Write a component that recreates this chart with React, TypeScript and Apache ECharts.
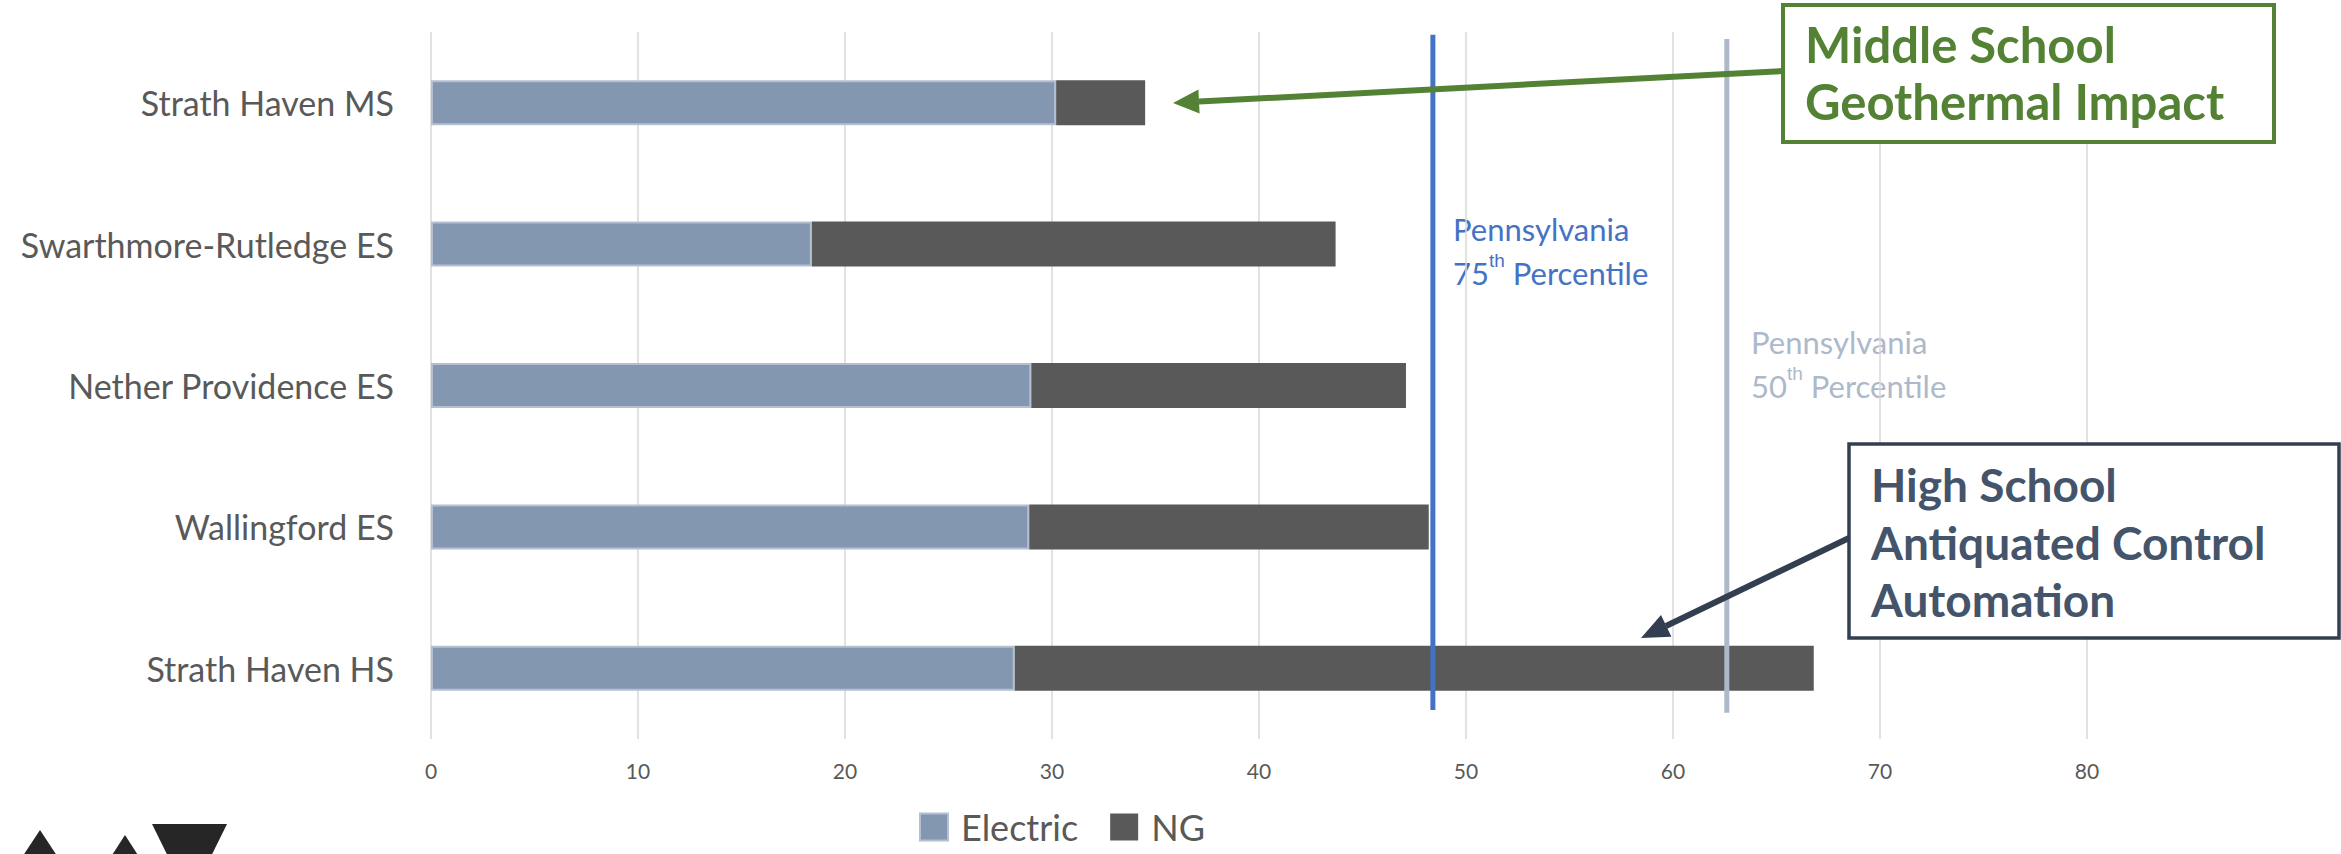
import React, { useEffect, useRef } from "react";
import * as echarts from "echarts";

const categories = [
  "Strath Haven MS",
  "Swarthmore-Rutledge ES",
  "Nether Providence ES",
  "Wallingford ES",
  "Strath Haven HS",
];
const electricValues = [30.2, 18.4, 29.0, 28.9, 28.2];
const ngValues = [4.3, 25.3, 18.1, 19.3, 38.6];
const pa75 = 48.4;
const pa50 = 62.6;
const xTicks = [0, 10, 20, 30, 40, 50, 60, 70, 80];

const FONT = "Lato, 'Open Sans', sans-serif";

export default function App() {
  const ref = useRef<HTMLDivElement>(null);
  useEffect(() => {
    document.body.style.margin = "0";
    const chart = echarts.init(ref.current!, null, { renderer: "svg" });
    const green = "#548235";
    const dark = "#333F50";
    const darkText = "#44546A";
    const option: any = {
      animation: false,
      backgroundColor: "#ffffff",
      textStyle: { fontFamily: FONT },
      grid: { left: 431, right: 254, top: 32, bottom: 115, containLabel: false },
      legend: {
        data: ["Electric", "NG"],
        left: 914,
        top: 804,
        itemWidth: 28,
        itemHeight: 27,
        itemGap: 32,
        icon: "rect",
        textStyle: {
          fontSize: 36,
          color: "#595959",
          fontFamily: FONT,
          padding: [0, 0, 0, 8],
        },
      },
      xAxis: {
        type: "value",
        min: xTicks[0],
        max: xTicks[xTicks.length - 1],
        interval: 10,
        axisLine: { show: false },
        axisTick: { show: false },
        splitLine: { show: true, lineStyle: { color: "#D9D9D9", width: 1.5 } },
        axisLabel: { fontSize: 21, color: "#595959", margin: 21, fontFamily: FONT },
      },
      yAxis: [
        {
          type: "category",
          data: categories,
          inverse: true,
          axisLine: { show: false },
          axisTick: { show: false },
          axisLabel: { fontSize: 34, color: "#595959", margin: 37, fontFamily: FONT },
        },
        { type: "value", min: 0, max: 1, show: false },
      ],
      series: [
        {
          name: "Electric",
          type: "bar",
          stack: "total",
          data: electricValues,
          barWidth: 45,
          itemStyle: { color: "#8497B0", borderColor: "#B4C0D2", borderWidth: 2 },
        },
        {
          name: "NG",
          type: "bar",
          stack: "total",
          data: ngValues,
          barWidth: 45,
          itemStyle: { color: "#595959" },
        },
        {
          name: "PA 75th",
          type: "line",
          yAxisIndex: 1,
          data: [[pa75, 0.041], [pa75, 0.996]],
          symbol: "none",
          lineStyle: { color: "#4472C4", width: 5 },
          z: 5,
        },
        {
          name: "PA 50th",
          type: "line",
          yAxisIndex: 1,
          data: [[pa50, 0.037], [pa50, 0.99]],
          symbol: "none",
          lineStyle: { color: "#ADB9CA", width: 5 },
          z: 5,
        },
      ],
      graphic: [
        {
          type: "text",
          left: 1453,
          top: 207,
          style: {
            text: "Pennsylvania\n75{sup|th} Percentile",
            fill: "#4472C4",
            font: `31px ${FONT}`,
            lineHeight: 44,
            rich: { sup: { fontSize: 19, verticalAlign: "top", lineHeight: 30, fill: "#4472C4" } },
          },
        },
        {
          type: "text",
          left: 1751,
          top: 320,
          style: {
            text: "Pennsylvania\n50{sup|th} Percentile",
            fill: "#ADB9CA",
            font: `31px ${FONT}`,
            lineHeight: 44,
            rich: { sup: { fontSize: 19, verticalAlign: "top", lineHeight: 30, fill: "#ADB9CA" } },
          },
        },
        {
          type: "rect",
          shape: { x: 1783, y: 5, width: 491, height: 137 },
          style: { fill: "#ffffff", stroke: green, lineWidth: 4 },
          z: 10,
        },
        {
          type: "text",
          x: 1805,
          y: 15,
          style: {
            text: "Middle School\nGeothermal Impact",
            fill: green,
            font: `bold 49px ${FONT}`,
            lineHeight: 57,
          },
          z: 11,
        },
        {
          type: "line",
          shape: { x1: 1783, y1: 71, x2: 1199, y2: 101.6 },
          style: { stroke: green, lineWidth: 6 },
          z: 10,
        },
        {
          type: "polygon",
          shape: { points: [[1173, 103], [1199.6, 113.6], [1198.4, 89.6]] },
          style: { fill: green },
          z: 10,
        },
        {
          type: "rect",
          shape: { x: 1849, y: 444, width: 490, height: 194 },
          style: { fill: "#ffffff", stroke: dark, lineWidth: 3.5 },
          z: 10,
        },
        {
          type: "text",
          x: 1871,
          y: 456,
          style: {
            text: "High School\nAntiquated Control\nAutomation",
            fill: darkText,
            font: `bold 46px ${FONT}`,
            lineHeight: 57.5,
          },
          z: 11,
        },
        {
          type: "line",
          shape: { x1: 1849, y1: 538, x2: 1666, y2: 626 },
          style: { stroke: dark, lineWidth: 6 },
          z: 10,
        },
        {
          type: "polygon",
          shape: { points: [[1641, 638], [1671.4, 636.7], [1661, 615.1]] },
          style: { fill: dark },
          z: 10,
        },
        {
          type: "polygon",
          shape: { points: [[40, 830], [7, 880], [73, 880]] },
          style: { fill: "#262626" },
        },
        {
          type: "polygon",
          shape: { points: [[125, 835], [96, 880], [154, 880]] },
          style: { fill: "#262626" },
        },
        {
          type: "polygon",
          shape: { points: [[152, 824], [227, 824], [189.5, 900]] },
          style: { fill: "#262626" },
        },
      ],
    };
    chart.setOption(option);
    return () => chart.dispose();
  }, []);
  return <div ref={ref} style={{ width: 2341, height: 854 }} />;
}
